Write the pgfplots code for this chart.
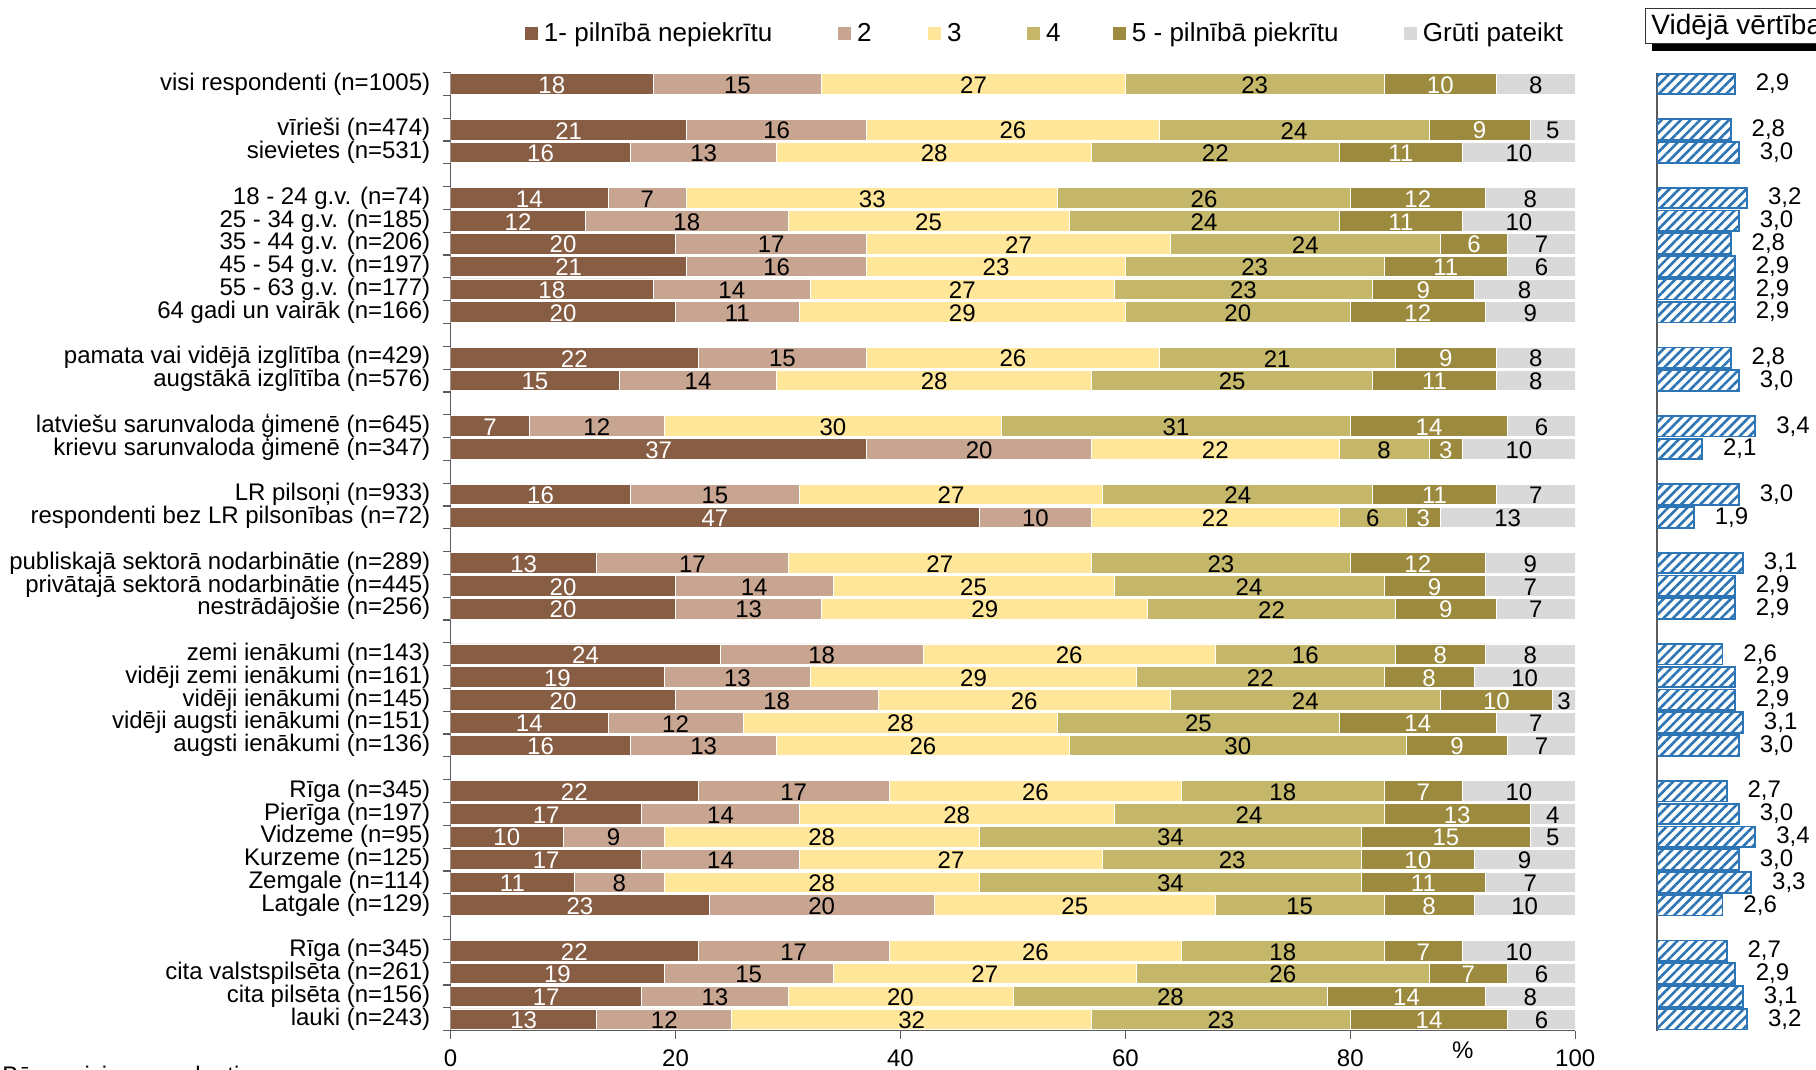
\documentclass[border=0pt]{standalone}
\usepackage{fontspec}
\setmainfont{Liberation Sans}
\usepackage{pgfplots}
\pgfplotsset{compat=1.18}
\usepackage{pgfplotstable}
\usetikzlibrary{patterns.meta}

\definecolor{c1}{RGB}{135,93,68}
\definecolor{c2}{RGB}{200,165,145}
\definecolor{c3}{RGB}{255,230,153}
\definecolor{c4}{RGB}{196,183,106}
\definecolor{c5}{RGB}{156,139,62}
\definecolor{c6}{RGB}{217,217,217}
\definecolor{hblue}{RGB}{46,117,182}
\definecolor{axisgray}{RGB}{90,90,90}

% v6 = length of the "Gruti pateikt" segment (to 100), l6 = its printed value
\pgfplotstableread{
y  v1 v2 v3 v4 v5 v6 l6 m
0  18 15 27 23 10 7  8  2.9
2  21 16 26 24 9  4  5  2.8
3  16 13 28 22 11 10 10 3.0
5  14 7  33 26 12 8  8  3.2
6  12 18 25 24 11 10 10 3.0
7  20 17 27 24 6  6  7  2.8
8  21 16 23 23 11 6  6  2.9
9  18 14 27 23 9  9  8  2.9
10 20 11 29 20 12 8  9  2.9
12 22 15 26 21 9  7  8  2.8
13 15 14 28 25 11 7  8  3.0
15 7  12 30 31 14 6  6  3.4
16 37 20 22 8  3  10 10 2.1
18 16 15 27 24 11 7  7  3.0
19 47 10 22 6  3  12 13 1.9
21 13 17 27 23 12 8  9  3.1
22 20 14 25 24 9  8  7  2.9
23 20 13 29 22 9  7  7  2.9
25 24 18 26 16 8  8  8  2.6
26 19 13 29 22 8  9  10 2.9
27 20 18 26 24 10 2  3  2.9
28 14 12 28 25 14 7  7  3.1
29 16 13 26 30 9  6  7  3.0
31 22 17 26 18 7  10 10 2.7
32 17 14 28 24 13 4  4  3.0
33 10 9  28 34 15 4  5  3.4
34 17 14 27 23 10 9  9  3.0
35 11 8  28 34 11 8  7  3.3
36 23 20 25 15 8  9  10 2.6
38 22 17 26 18 7  10 10 2.7
39 19 15 27 26 7  6  6  2.9
40 17 13 20 28 14 8  8  3.1
41 13 12 32 23 14 6  6  3.2
}\datatable

\newcommand\cf{\fontsize{12bp}{14bp}\selectfont}
\newcommand\lf{\fontsize{13bp}{15bp}\selectfont}

\pgfplotsset{
  segplot/.style 2 args={
    fill=#1, draw=white, line width=0.4bp,
    nodes near coords, point meta=explicit,
    nodes near coords style={text=#2},
  },
}

\begin{document}
\begin{tikzpicture}[font=\cf]
\useasboundingbox (0,0) rectangle (908bp,535bp);
\clip (0,0) rectangle (908bp,535bp);
\pgfplotsset{/pgf/number format/assume math mode=true}
\begin{axis}[
  at={(225.3bp,19.7bp)}, anchor=south west,
  scale only axis, width=562.3bp, height=479bp,
  xbar stacked, bar width=10.3bp,
  xmin=0, xmax=100, ymin=-0.5, ymax=41.5, y dir=reverse,
  axis x line*=bottom, axis y line*=left,
  axis line style={-, draw=axisgray, line width=0.6bp},
  xtick={0,20,...,100},
  extra x ticks={90}, extra x tick labels={\%},
  extra x tick style={major tick length=0pt},
  ytick={0,2,3,5,6,7,8,9,10,12,13,15,16,18,19,21,22,23,25,26,27,28,29,31,32,33,34,35,36,38,39,40,41},
  yticklabels={visi respondenti (n=1005),
    vīrieši (n=474), sievietes (n=531),
    18 - 24 g.v. (n=74), 25 - 34 g.v. (n=185), 35 - 44 g.v. (n=206), 45 - 54 g.v. (n=197), 55 - 63 g.v. (n=177), 64 gadi un vairāk (n=166),
    pamata vai vidējā izglītība (n=429), augstākā izglītība (n=576),
    latviešu sarunvaloda ģimenē (n=645), krievu sarunvaloda ģimenē (n=347),
    LR pilsoņi (n=933), respondenti bez LR pilsonības (n=72),
    publiskajā sektorā nodarbinātie (n=289), privātajā sektorā nodarbinātie (n=445), nestrādājošie (n=256),
    zemi ienākumi (n=143), vidēji zemi ienākumi (n=161), vidēji ienākumi (n=145), vidēji augsti ienākumi (n=151), augsti ienākumi (n=136),
    Rīga (n=345), Pierīga (n=197), Vidzeme (n=95), Kurzeme (n=125), Zemgale (n=114), Latgale (n=129),
    Rīga (n=345), cita valstspilsēta (n=261), cita pilsēta (n=156), lauki (n=243)},
  minor ytick={-0.5,0.5,...,41.5},
  tick align=outside,
  major tick length=4bp, minor tick length=4bp,
  major y tick style={draw=none},
  minor y tick style={draw=axisgray, line width=0.6bp},
  major x tick style={draw=axisgray, line width=0.6bp},
  tick label style={font=\cf, text=black},
  yticklabel style={anchor=east, inner sep=0pt, xshift=-6bp},
  xticklabel style={anchor=north, inner sep=0pt, text height=8.6bp, text depth=0pt, yshift=-5bp},
  legend columns=6,
  legend style={font=\lf, draw=none, fill=none, inner sep=0pt, outer sep=0pt,
    nodes={inner sep=0pt},
    at={(axis description cs:0,1)}, anchor=west, xshift=37.2bp, yshift=19.5bp,
    /tikz/every odd column/.append style={column sep=3bp},
    /tikz/every even column/.append style={column sep=0pt}},
  legend image code/.code={\path[#1, draw=none] (0bp,-3.25bp) rectangle (6.5bp,3.25bp);},
  nodes near coords style={font=\cf, anchor=center, inner sep=0pt, yshift=-0.5bp},
]
\addplot[segplot={c1}{white}] table[x=v1, y=y, meta=v1] {\datatable};
\addplot[segplot={c2}{black}] table[x=v2, y=y, meta=v2] {\datatable};
\addplot[segplot={c3}{black}] table[x=v3, y=y, meta=v3] {\datatable};
\addplot[segplot={c4}{black}] table[x=v4, y=y, meta=v4] {\datatable};
\addplot[segplot={c5}{white}] table[x=v5, y=y, meta=v5] {\datatable};
\addplot[segplot={c6}{black}] table[x=v6, y=y, meta=l6] {\datatable};
\legend{\makebox[147bp][l]{1- pilnībā nepiekrītu},
  \makebox[35.5bp][l]{2},
  \makebox[40bp][l]{3},
  \makebox[33.5bp][l]{4},
  \makebox[136bp][l]{5 - pilnībā piekrītu},
  Grūti pateikt}
\end{axis}

\begin{axis}[
  at={(828.5bp,19.7bp)}, anchor=south west,
  scale only axis, width=79.5bp, height=479bp,
  xbar, bar width=10.3bp,
  xmin=1, xmax=4.88, ymin=-0.5, ymax=41.5, y dir=reverse,
  axis x line=none, axis y line*=left,
  axis line style={-, draw=axisgray, line width=0.6bp},
  ytick=\empty,
  minor ytick={-0.5,0.5,...,41.5},
  tick align=outside, minor tick length=4bp,
  minor y tick style={draw=axisgray, line width=0.6bp},
  nodes near coords, point meta=x,
  nodes near coords style={font=\cf, anchor=west, inner sep=0pt, xshift=10bp, text=black,
    /pgf/number format/.cd, fixed, fixed zerofill, precision=1, use comma},
]
\addplot[fill=white, draw=hblue, line width=0.9bp,
  postaction={pattern={Lines[angle=45,distance=3.4bp,line width=1.3bp]}, pattern color=hblue}]
  table[x=m, y=y] {\datatable};
\end{axis}

\fill[black] (826bp,509.5bp) rectangle (915bp,526bp);
\draw[fill=white, draw=black!80, line width=0.5bp] (822.5bp,513bp) rectangle (915bp,530.5bp);
\node[anchor=west, inner sep=0pt, font=\fontsize{14bp}{16bp}\selectfont] at (825.5bp,521.5bp) {Vidējā vērtība};
\node[anchor=base west, inner sep=0pt] at (1bp,-6.5bp) {Bāze: visi respondenti};
\end{tikzpicture}
\end{document}
